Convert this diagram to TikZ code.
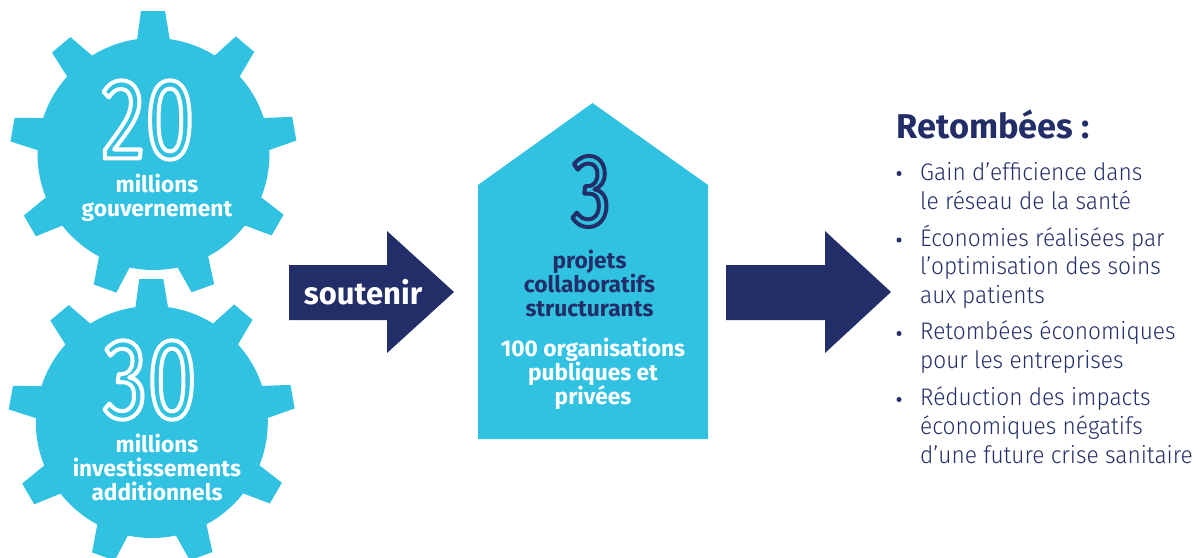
\documentclass[tikz,border=0pt]{standalone}
\usepackage{fontspec}
\setmainfont{Fira Sans}
\newfontfamily\fbold{Fira Sans Bold}
\newfontfamily\flight[FakeStretch=0.945]{Fira Sans Light}
\newfontfamily\fdigit[FakeStretch=0.77]{Fira Sans}
\definecolor{skyb}{HTML}{31C2E1}
\definecolor{navyb}{HTML}{232E68}
\newcommand{\outl}[1]{\special{pdf:code 1 Tr 4 w 1 J 1 j}#1\special{pdf:code 0 Tr 1 w 0 J 0 j}}
\tikzset{
  x=1pt,y=-1pt,
  gearfill/.style={fill=skyb,draw=none},
  arrowfill/.style={fill=navyb,draw=none},
  digits/.style={inner sep=0pt,font=\fdigit\fontsize{115}{115}\selectfont},
  boldlab/.style={inner sep=0pt,align=center,font=\fbold\fontsize{22.7}{24}\selectfont},
  listtxt/.style={inner sep=0pt,anchor=north west,align=left,text=navyb,font=\flight\fontsize{24}{28.9}\selectfont},
  bulletn/.style={fill=navyb,circle,inner sep=0pt,minimum size=5pt}
}
\newcommand{\gearat}[2]{%
  \begin{scope}[shift={(#1,#2)}]
    \fill[gearfill] (0,0) circle[radius=116];
    \foreach \a in {0,40,...,320}{
      \fill[gearfill,rotate=\a] (-17,-110) -- (-12.5,-143) -- (11.5,-143) -- (17,-110) -- cycle;
    }
  \end{scope}}
\begin{document}
\begin{tikzpicture}
\useasboundingbox (0,0) rectangle (1198,557);
\clip (0,0) rectangle (1198,557);
\gearat{153.5}{154}
\gearat{151.8}{422}
\fill[gearfill] (478,185) -- (592.5,103) -- (708,185) -- (708,439) -- (478,439) -- cycle;
\fill[arrowfill] (289,265) -- (387,265) -- (387,231) -- (454,292) -- (387,353) -- (387,320) -- (289,320) -- cycle;
\fill[arrowfill] (726,265) -- (825,265) -- (825,231) -- (891,292) -- (825,353) -- (825,320) -- (726,320) -- cycle;
\node[digits,text=white] (n20) at (148,120) {\outl{20}};
\node[digits,text=white] (n30) at (150,380) {\outl{30}};
\node[digits,text=navyb,font=\fdigit\fontsize{103}{103}\selectfont] (n3) at (591,191.5) {\outl{3}};
\node[boldlab,text=white] (t20) at (157,198) {millions\\gouvernement};
\node[boldlab,text=white] (t30) at (157,467) {millions\\investissements\\additionnels};
\node[inner sep=0pt,text=white,font=\fbold\fontsize{31}{31}\selectfont] (sout) at (363,292) {soutenir};
\node[boldlab,text=navyb] (proj) at (589.5,283.5) {projets\\collaboratifs\\structurants};
\node[boldlab,text=white] (orgs) at (593,373.5) {100 organisations\\publiques et\\privées};
\node[inner sep=0pt,anchor=base west,text=navyb,font=\fbold\fontsize{34.4}{34.4}\selectfont] (ret) at (896.5,138) {Retombées :};
\node[listtxt] (l1) at (920,162) {Gain d’efficience dans\\le réseau de la santé};
\node[listtxt] (l2) at (920,224.5) {Économies réalisées par\\l’optimisation des soins\\aux patients};
\node[listtxt] (l3) at (920,321) {Retombées économiques\\pour les entreprises};
\node[listtxt] (l4) at (920,386.5) {Réduction des impacts\\économiques négatifs\\d’une future crise sanitaire};
\node[bulletn] (b1) at (899,173.5) {};
\node[bulletn] (b2) at (899,240) {};
\node[bulletn] (b3) at (899,333.5) {};
\node[bulletn] (b4) at (899,399.5) {};
\end{tikzpicture}
\end{document}
